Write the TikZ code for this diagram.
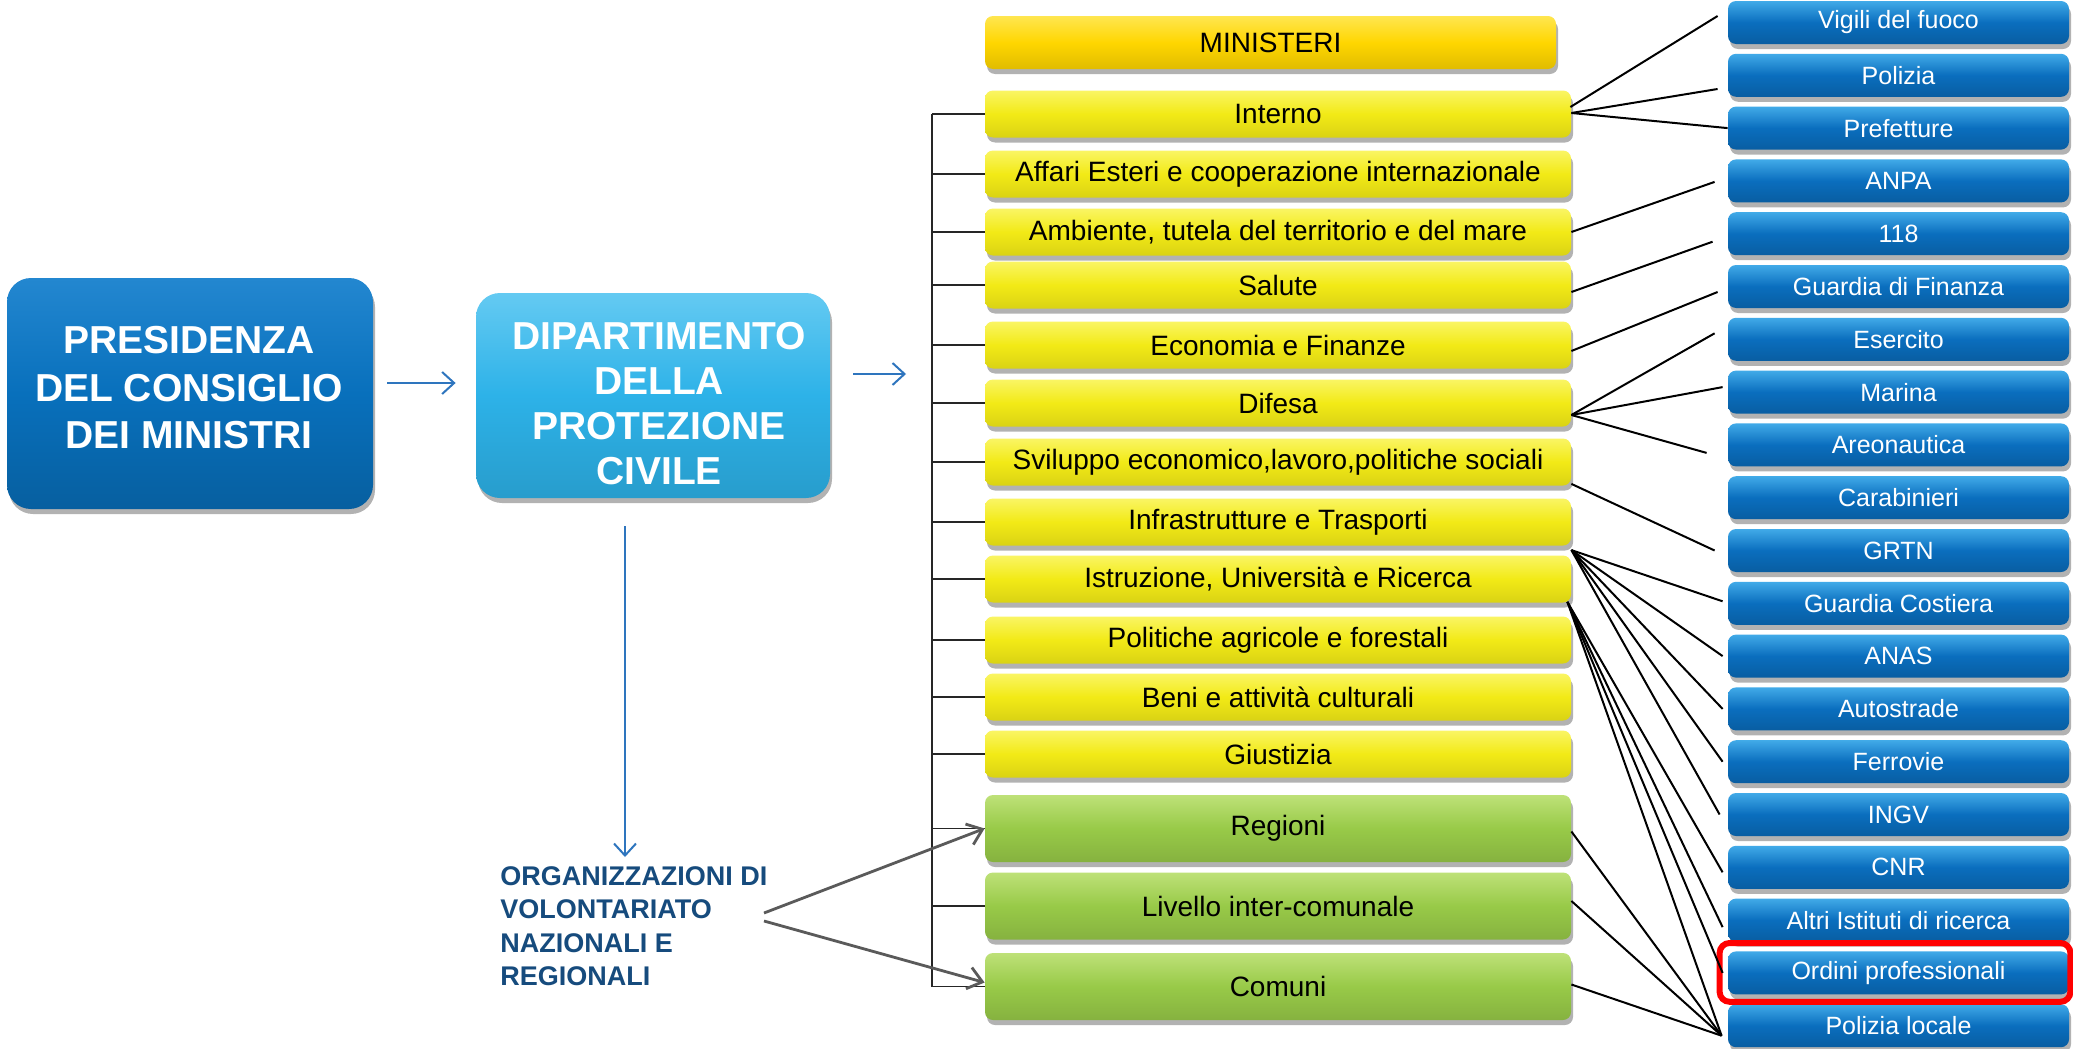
\documentclass[tikz,border=0pt]{standalone}
\usepackage{fontspec}
\setmainfont{Liberation Sans}
\usetikzlibrary{arrows.meta,shadows,calc}

\definecolor{presblue}{RGB}{8,112,188}
\definecolor{presbluetop}{RGB}{35,135,208}
\definecolor{dipblue}{RGB}{45,178,232}
\definecolor{dipbluetop}{RGB}{100,202,242}
\definecolor{ylw}{RGB}{242,234,22}
\definecolor{ylwtop}{RGB}{250,245,100}
\definecolor{gold}{RGB}{255,214,0}
\definecolor{goldtop}{RGB}{255,230,80}
\definecolor{grn}{RGB}{152,202,72}
\definecolor{grntop}{RGB}{190,225,120}
\definecolor{bboxc}{RGB}{10,110,190}
\definecolor{bboxtop}{RGB}{65,170,232}
\definecolor{orgtext}{RGB}{22,75,125}
\definecolor{arrblue}{RGB}{46,117,190}
\definecolor{arrgray}{RGB}{90,90,90}

\begin{document}
\begin{tikzpicture}[x=0.5pt,y=-0.5pt,
  shadowed/.style={drop shadow={shadow xshift=1pt,shadow yshift=-2.5pt,opacity=0.3,fill=black}},
  bigbox/.style={rectangle, rounded corners=12pt, shadowed, inner sep=0pt},
  bigtext/.style={align=center, text=white, inner sep=0pt, font=\bfseries\fontsize{19.5}{23.75}\selectfont},
  presbox/.style={bigbox, minimum width=183pt, minimum height=115.5pt, top color=presbluetop, bottom color=presblue!85!black, middle color=presblue},
  dipbox/.style={bigbox, minimum width=177pt, minimum height=102.5pt, top color=dipbluetop, bottom color=dipblue!88!black, middle color=dipblue},
  ybox/.style={rectangle, rounded corners=4pt, shadowed, inner sep=0pt, minimum width=293pt, minimum height=23.5pt, top color=ylwtop, bottom color=ylw!90!black, middle color=ylw, font=\fontsize{14}{16}\selectfont},
  minbox/.style={ybox, minimum width=285.5pt, minimum height=26.5pt, top color=goldtop, bottom color=gold!88!black, middle color=gold},
  gbox/.style={ybox, minimum height=33.5pt, top color=grntop, bottom color=grn!88!black, middle color=grn},
  bbox/.style={rectangle, rounded corners=4pt, shadowed, inner sep=0pt, minimum width=170.5pt, minimum height=21.5pt, top color=bboxtop, bottom color=bboxc!85!black, middle color=bboxc, text=white, font=\fontsize{12.5}{14}\selectfont},
  link/.style={black, line width=1pt},
  tick/.style={black!85, line width=0.75pt},
  bluearrow/.style={arrblue, line width=1pt, -{Straight Barb[length=6pt,width=11pt]}},
  grayarrow/.style={arrgray, line width=1.4pt, -{Straight Barb[length=7pt,width=11pt]}},
  orgtxt/.style={text=orgtext, font=\bfseries\fontsize{13.5}{16.75}\selectfont, align=left, inner sep=0pt},
  highlight/.style={draw=red, line width=3pt, rounded corners=5pt}
]
\path[use as bounding box, fill=white] (0,0) rectangle (2073,1049);

% main boxes
\node[presbox] (pres) at (190,393.5) {};
\node[bigtext] (presT) at (189,388) {PRESIDENZA\\DEL CONSIGLIO\\DEI MINISTRI};
\node[dipbox] (dip) at (653,395.5) {};
\node[bigtext, font=\bfseries\fontsize{19.5}{22.5}\selectfont] (dipT) at (659,404) {DIPARTIMENTO\\DELLA\\PROTEZIONE\\CIVILE};
\node[orgtxt, anchor=north west] (org) at (500,866) {ORGANIZZAZIONI DI\\VOLONTARIATO\\NAZIONALI E\\REGIONALI};

% ministeri column
\node[minbox] (min) at (1270.5,42.5) {MINISTERI};
\node[ybox] (int) at (1278,114) {Interno};
\node[ybox] (aff) at (1278,174) {Affari Esteri e cooperazione internazionale};
\node[ybox] (amb) at (1278,232) {Ambiente, tutela del territorio e del mare};
\node[ybox] (sal) at (1278,285) {Salute};
\node[ybox] (eco) at (1278,345) {Economia e Finanze};
\node[ybox] (dif) at (1278,403) {Difesa};
\node[ybox] (svi) at (1278,462) {Sviluppo economico,lavoro,politiche sociali};
\node[ybox] (inf) at (1278,522) {Infrastrutture e Trasporti};
\node[ybox] (ist) at (1278,579) {Istruzione, Università e Ricerca};
\node[ybox] (pol) at (1278,640) {Politiche agricole e forestali};
\node[ybox] (ben) at (1278,697) {Beni e attività culturali};
\node[ybox] (giu) at (1278,754) {Giustizia};
\node[gbox] (reg) at (1278,828.5) {Regioni};
\node[gbox] (liv) at (1278,906) {Livello inter-comunale};
\node[gbox] (com) at (1278,986.5) {Comuni};

% blue column
\node[bbox] (vvf) at (1898.5,22.5) {Vigili del fuoco};
\node[bbox] (polz) at (1898.5,75.3) {Polizia};
\node[bbox] (pref) at (1898.5,128.1) {Prefetture};
\node[bbox] (anpa) at (1898.5,180.9) {ANPA};
\node[bbox] (c118) at (1898.5,233.7) {118};
\node[bbox] (gdf) at (1898.5,286.5) {Guardia di Finanza};
\node[bbox] (eser) at (1898.5,339.3) {Esercito};
\node[bbox] (mar) at (1898.5,392.1) {Marina};
\node[bbox] (aer) at (1898.5,444.9) {Areonautica};
\node[bbox] (car) at (1898.5,497.7) {Carabinieri};
\node[bbox] (grtn) at (1898.5,550.5) {GRTN};
\node[bbox] (gcost) at (1898.5,603.3) {Guardia Costiera};
\node[bbox] (anas) at (1898.5,656.1) {ANAS};
\node[bbox] (auto) at (1898.5,708.9) {Autostrade};
\node[bbox] (ferr) at (1898.5,761.7) {Ferrovie};
\node[bbox] (ingv) at (1898.5,814.5) {INGV};
\node[bbox] (cnr) at (1898.5,867.3) {CNR};
\node[bbox] (altri) at (1898.5,920.1) {Altri Istituti di ricerca};
\node[bbox] (ord) at (1898.5,972.9) {Ordini professionali};
\node[bbox] (polloc) at (1898.5,1025.7) {Polizia locale};

% highlight
\draw[highlight] ($(ord.north west)+(-8,-8)$) rectangle ($(ord.south east)+(1,7)$);

% blue arrows
\coordinate (a2end) at (906,374);
\coordinate (vend) at (625,857);
\draw[bluearrow] ($(pres.east)+(14,-10.5)$) -- ($(dip.west)+(-20,-12.5)$);
\draw[bluearrow] ($(dip.east)+(23,-21.5)$) -- (a2end);
\draw[bluearrow] ($(dip.south)+(-28,28)$) -- (vend);

% bracket
\coordinate (brk) at (932,0);
\draw[tick] (int.west -| brk) -- (com.west -| brk);
\foreach \b in {int,aff,amb,sal,eco,dif,svi,inf,ist,pol,ben,giu,reg,liv,com}
  \draw[tick] (\b.west -| brk) -- (\b.west);

% volunteers arrows
\coordinate (o1) at (764,913);
\coordinate (o2) at (764,921);
\draw[grayarrow] (o1) -- (reg.west);
\draw[grayarrow] (o2) -- ($(com.west)+(0,-4)$);

% links ministeri -> enti
\draw[link] ($(int.east)+(-1,-7)$) -- ($(vvf.west)+(-10,-6.5)$);
\draw[link] ($(int.east)+(0,-1)$) -- ($(polz.west)+(-10,13.7)$);
\draw[link] ($(int.east)+(0,-1)$) -- (pref.west);
\draw[link] (amb.east) -- ($(anpa.west)+(-13,1)$);
\draw[link] ($(sal.east)+(0,7)$) -- ($(c118.west)+(-15,8)$);
\draw[link] ($(eco.east)+(0,6)$) -- ($(gdf.west)+(-10,5.5)$);
\draw[link] ($(dif.east)+(0,12)$) -- ($(eser.west)+(-13,-6)$);
\draw[link] ($(dif.east)+(0,12)$) -- ($(mar.west)+(-5,-5)$);
\draw[link] ($(dif.east)+(0,12)$) -- ($(aer.west)+(-21,8)$);
\draw[link] ($(svi.south east)+(0,-2)$) -- ($(grtn.west)+(-13,0)$);
\foreach \t/\dx/\dy in {gcost/-5/-2, anas/-5/0, auto/-5/0, ferr/-5/0, ingv/-8/0}
  \draw[link] ($(ist.north east)+(0,-5)$) -- ($(\t.west)+(\dx,\dy)$);
\foreach \t/\dx/\dy in {cnr/-5/5, altri/-5/7, ord/-5/0, polloc/-6/10}
  \draw[link] ($(ist.south east)+(-4,-1)$) -- ($(\t.west)+(\dx,\dy)$);
\draw[link] ($(reg.east)+(0,3)$) -- ($(polloc.west)+(-6,10)$);
\draw[link] ($(liv.east)+(0,-5)$) -- ($(polloc.west)+(-6,10)$);
\draw[link] ($(com.east)+(0,-2)$) -- ($(polloc.west)+(-6,10)$);
\end{tikzpicture}
\end{document}
